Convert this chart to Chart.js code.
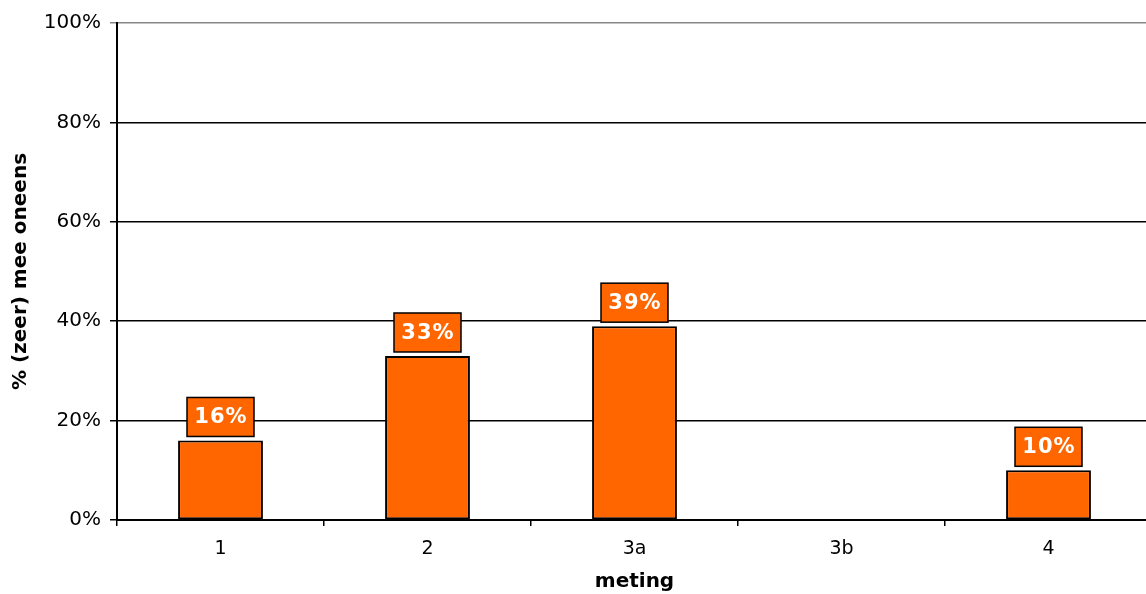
<!DOCTYPE html>
<html>
<head>
<meta charset="utf-8">
<script src="https://cdn.jsdelivr.net/npm/chart.js@4/dist/chart.umd.min.js"></script>
<style>
  html, body { margin: 0; padding: 0; background: #fff; overflow: hidden; }
  #wrap { width: 1146px; height: 594px; position: relative; overflow: hidden; }
</style>
</head>
<body>
<div id="wrap"><canvas id="c" width="1152" height="594"></canvas></div>
<script>
// Measurement moments and share of respondents who (strongly) disagree
const categories = ['1', '2', '3a', '3b', '4'];
const values = [16, 33, 39, null, 10];
const yTicks = [0, 20, 40, 60, 80, 100];

const FONT = '"DejaVu Sans", Verdana, sans-serif';
const ORANGE = '#FF6600';

// Boxed value labels above each bar
const valueBoxes = {
  id: 'valueBoxes',
  afterDatasetsDraw(chart) {
    const ctx = chart.ctx;
    const meta = chart.getDatasetMeta(0);
    meta.data.forEach((bar, i) => {
      const v = values[i];
      if (v === null || v === undefined) return;
      const w = 67, h = 39, gap = 4;
      const x = bar.x - w / 2;
      const y = bar.y - gap - h;
      ctx.save();
      ctx.fillStyle = ORANGE;
      ctx.fillRect(x, y, w, h);
      ctx.strokeStyle = '#000';
      ctx.lineWidth = 1.5;
      ctx.strokeRect(x, y, w, h);
      ctx.fillStyle = '#fff';
      ctx.font = 'bold 21px ' + FONT;
      if ('letterSpacing' in ctx) ctx.letterSpacing = '1px';
      ctx.textAlign = 'center';
      ctx.textBaseline = 'middle';
      ctx.fillText(v + '%', bar.x + 0.5, y + h / 2 + 1);
      ctx.restore();
    });
  }
};

new Chart(document.getElementById('c'), {
  type: 'bar',
  data: {
    labels: categories,
    datasets: [{
      data: values,
      backgroundColor: ORANGE,
      borderColor: '#000',
      borderWidth: 2,
      borderSkipped: false,
      barPercentage: 0.41,
      categoryPercentage: 1
    }]
  },
  options: {
    responsive: false,
    animation: false,
    layout: { padding: { top: 23, right: 0, left: 0, bottom: 0 } },
    plugins: {
      legend: { display: false },
      tooltip: { enabled: false }
    },
    scales: {
      x: {
        afterFit(scale) { scale.height = 74; },
        grid: {
          drawOnChartArea: false,
          drawTicks: true,
          tickLength: 6,
          color: '#000',
          lineWidth: 1.5,
          offset: true
        },
        border: { color: '#000', width: 2 },
        ticks: {
          color: '#000',
          padding: 12,
          font: { family: FONT, size: 19 }
        },
        title: {
          display: true,
          text: 'meting',
          color: '#000',
          font: { family: FONT, size: 20, weight: 'bold' },
          padding: { top: 2, bottom: 0 }
        }
      },
      y: {
        min: 0,
        max: 100,
        afterFit(scale) { scale.width = 117; },
        afterBuildTicks(scale) { scale.ticks = yTicks.map(v => ({ value: v })); },
        grid: {
          color: ctx => (ctx.tick && ctx.tick.value === 100) ? '#888' : '#000',
          lineWidth: 1.5,
          tickLength: 7,
          drawTicks: true
        },
        border: { color: '#000', width: 2 },
        ticks: {
          color: '#000',
          padding: 9,
          font: { family: FONT, size: 20 },
          callback: v => v + '%'
        },
        title: {
          display: true,
          text: '% (zeer) mee oneens',
          color: '#000',
          font: { family: FONT, size: 20, weight: 'bold' },
          padding: { top: 9, bottom: 0 }
        }
      }
    }
  },
  plugins: [valueBoxes]
});
</script>
</body>
</html>
